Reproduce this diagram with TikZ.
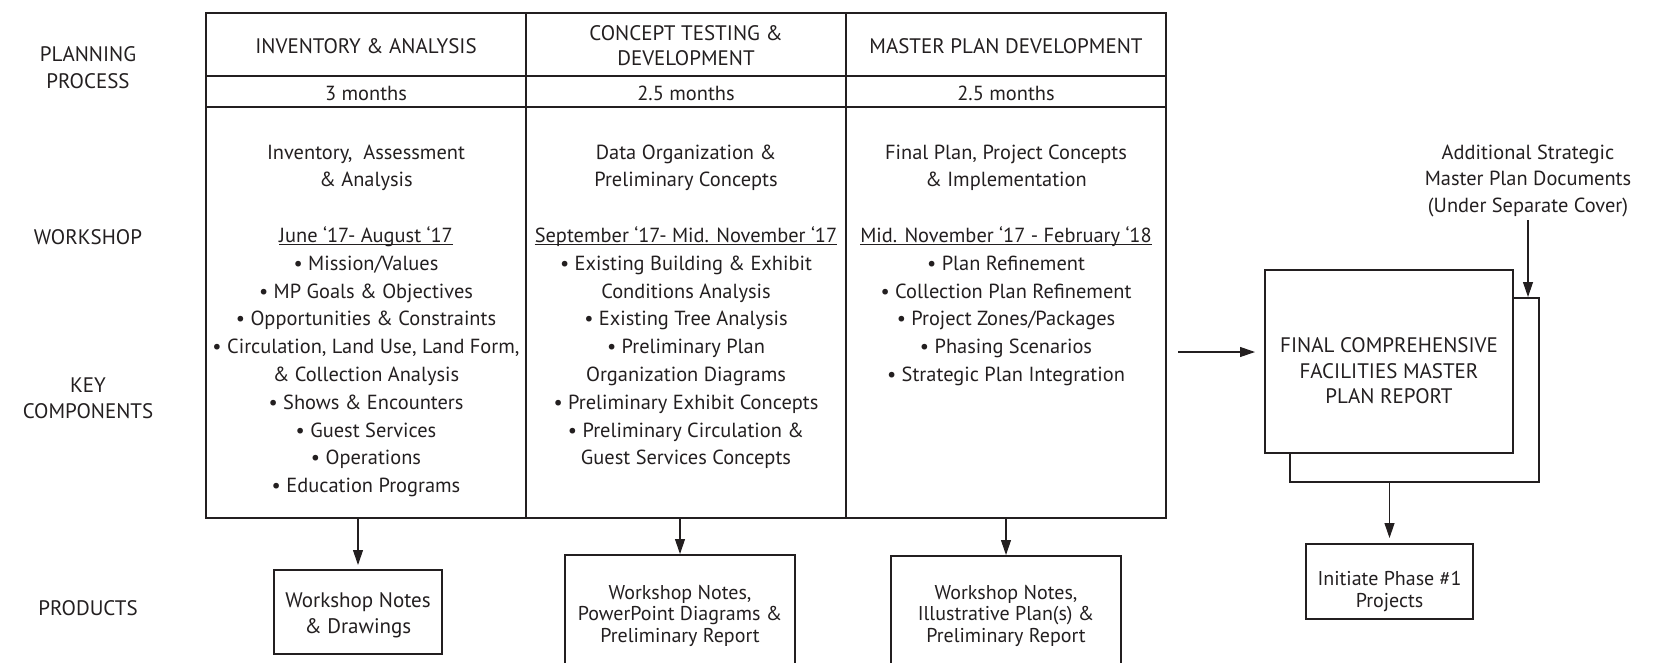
\documentclass[tikz,border=0pt]{standalone}
\usepackage{fontspec}
\setmainfont{PT Sans}
\usetikzlibrary{arrows.meta}
\definecolor{ink}{HTML}{231F20}
\newcommand{\fmain}{\fontsize{21}{26}\selectfont}
\newcommand{\fbody}{\fontsize{20.4}{26}\selectfont}
\newcommand{\fprod}{\fontsize{20}{21}\selectfont}
\newcommand{\stack}[6][]{\foreach \t [count=\i from 0] in {#6} {\node[ln,#1] (#2\i) at (#3,#4+#5*\i) {\t};}}
\begin{document}
\begin{tikzpicture}[x=1pt,y=-1pt,
  ln/.style={anchor=base, inner sep=0pt, text=ink, font=\fmain},
  cell/.style={draw=ink, line width=2pt, minimum width=320pt, inner sep=0pt},
  box/.style={draw=ink, line width=2pt, fill=white, inner sep=0pt},
  arr/.style={draw=ink, line width=1.1pt, -{Triangle[length=15pt,width=10pt]}},
  uline/.style={draw=ink, line width=0.9pt}]
\clip (0,0) rectangle (1659,662);
% ---- table ----
\node[cell, minimum height=63pt] (h1) at (366,44.5) {};
\node[cell, minimum height=63pt] (h2) at (686,44.5) {};
\node[cell, minimum height=63pt] (h3) at (1006,44.5) {};
\node[cell, minimum height=31pt] (m1) at (366,91.5) {};
\node[cell, minimum height=31pt] (m2) at (686,91.5) {};
\node[cell, minimum height=31pt] (m3) at (1006,91.5) {};
\node[cell, minimum height=411pt] (body1) at (366,312.5) {};
\node[cell, minimum height=411pt] (body2) at (686,312.5) {};
\node[cell, minimum height=411pt] (body3) at (1006,312.5) {};
\node[ln] (h1t) at (366,53.5) {INVENTORY \& ANALYSIS};
\stack{h2t}{686}{40.5}{25}{CONCEPT TESTING \&,DEVELOPMENT}
\node[ln] (h3t) at (1006,53.5) {MASTER PLAN DEVELOPMENT};
\node[ln, font=\fbody] (m1t) at (366,100) {3 months};
\node[ln, font=\fbody] (m2t) at (686,100) {2.5 months};
\node[ln, font=\fbody] (m3t) at (1006,100) {2.5 months};
% ---- left labels ----
\node[ln] (lab1) at (88,61.5) {PLANNING};
\node[ln] (lab2) at (88,88.5) {PROCESS};
\node[ln] (lab3) at (88,244) {WORKSHOP};
\node[ln] (lab4) at (88,392) {KEY};
\node[ln] (lab5) at (88,418) {COMPONENTS};
\node[ln] (lab6) at (88,615) {PRODUCTS};
% ---- body text ----
\stack[font=\fbody]{ca}{366}{159}{27.8}{{Inventory,~ Assessment},\& Analysis,{},June ‘17- August ‘17,• Mission/Values,• MP Goals \& Objectives,• Opportunities \& Constraints,{• Circulation, Land Use, Land Form,},\& Collection Analysis,• Shows \& Encounters,• Guest Services,• Operations,• Education Programs}
\stack[font=\fbody]{cb}{686}{159}{27.8}{Data Organization \&,Preliminary Concepts,{},September ‘17- Mid. November ‘17,• Existing Building \& Exhibit,Conditions Analysis,• Existing Tree Analysis,• Preliminary Plan,Organization Diagrams,• Preliminary Exhibit Concepts,• Preliminary Circulation \&,Guest Services Concepts}
\stack[font=\fbody]{cc}{1006}{159}{27.8}{{Final Plan, Project Concepts},\& Implementation,{},Mid. November ‘17 - February ‘18,• Plan Refinement,• Collection Plan Refinement,• Project Zones/Packages,• Phasing Scenarios,• Strategic Plan Integration}
\foreach \c in {ca,cb,cc}{\draw[uline] ([yshift=-2.5pt]\c3.base west) -- ([yshift=-2.5pt]\c3.base east);}
% ---- products ----
\node[box, minimum width=168pt, minimum height=84pt] (p1) at (358,612) {};
\stack{pa}{358}{607}{26}{Workshop Notes,\& Drawings}
\node[box, minimum width=230pt, minimum height=114pt] (p2) at (680,612) {};
\stack[font=\fprod]{pb}{680}{599}{21.5}{{Workshop Notes,},PowerPoint Diagrams \&,Preliminary Report}
\node[box, minimum width=230pt, minimum height=112pt] (p3) at (1006,612) {};
\stack[font=\fprod]{pc}{1006}{599}{21.5}{{Workshop Notes,},Illustrative Plan(s) \&,Preliminary Report}
\draw[arr, shorten >=4pt] (body1.south -| p1) -- (p1.north);
\draw[arr] (body2.south -| p2) -- (p2.north);
\draw[arr] (body3.south -| p3) -- (p3.north);
% ---- right side ----
\node[box, minimum width=249pt, minimum height=184pt] (back) at (1414.5,390) {};
\node[box, minimum width=248pt, minimum height=183pt] (front) at (1389,361.5) {};
\stack{fr}{1389}{352.5}{25.5}{FINAL COMPREHENSIVE,FACILITIES MASTER,PLAN REPORT}
\stack[font=\fbody]{ad}{1528}{159}{26.5}{Additional Strategic,Master Plan Documents,(Under Separate Cover)}
\draw[arr] ([yshift=-8pt]ad2.base) -- (ad2.base |- back.north);
\coordinate (inarr) at (1178,352);
\draw[arr, shorten >=9pt] (inarr) -- (inarr -| front.west);
\node[box, minimum width=167pt, minimum height=75pt] (init) at (1389.5,581.5) {};
\stack[font=\fontsize{20}{22}\selectfont]{in}{1389.5}{585}{22}{Initiate Phase \#1,Projects}
\draw[arr, shorten >=5pt] (back.south -| init) -- (init.north);
\end{tikzpicture}
\end{document}
